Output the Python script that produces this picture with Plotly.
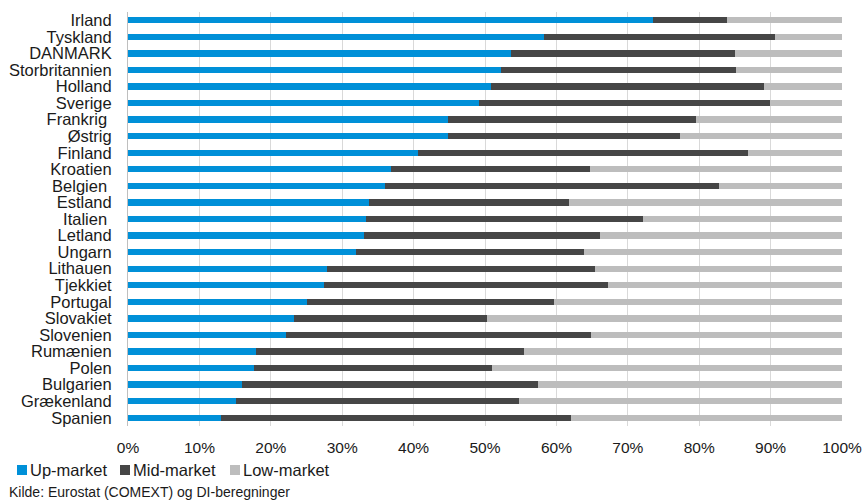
import plotly.graph_objects as go

countries = ["Irland", "Tyskland", "DANMARK", "Storbritannien", "Holland", "Sverige",
             "Frankrig\u00a0", "Østrig", "Finland", "Kroatien", "Belgien\u00a0", "Estland",
             "Italien\u00a0", "Letland", "Ungarn", "Lithauen", "Tjekkiet", "Portugal",
             "Slovakiet", "Slovenien", "Rumænien", "Polen", "Bulgarien", "Grækenland", "Spanien"]

up_market = [73.5, 58.2, 53.6, 52.2, 50.8, 49.2, 44.8, 44.8, 40.6, 36.8, 36.0, 33.7,
             33.3, 33.1, 32.0, 27.9, 27.5, 25.1, 23.2, 22.1, 17.9, 17.7, 15.9, 15.1, 13.0]
mid_market = [10.4, 32.4, 31.4, 32.9, 38.3, 40.7, 34.8, 32.5, 46.3, 27.9, 46.8, 28.1,
              38.8, 33.0, 31.9, 37.5, 39.7, 34.6, 27.1, 42.8, 37.6, 33.3, 41.5, 39.6, 49.0]
low_market = [16.1, 9.4, 15.0, 14.9, 10.9, 10.1, 20.4, 22.7, 13.1, 35.3, 17.2, 38.2,
              27.9, 33.9, 36.1, 34.6, 32.8, 40.3, 49.7, 35.1, 44.5, 49.0, 42.6, 45.3, 38.0]

x_ticks = [0, 10, 20, 30, 40, 50, 60, 70, 80, 90, 100]
x_tick_labels = [f"{v}%" for v in x_ticks]

series_names = ["Up-market", "Mid-market", "Low-market"]
series_colors = ["#0090d8", "#464646", "#bdbdbd"]
series_values = [up_market, mid_market, low_market]

W, H = 865, 500
ML, MR, MT, MB = 128, 23, 12, 74
PW, PH = W - ML - MR, H - MT - MB


def px_x(px):
    return (px - ML) / PW


def px_y(py):
    return (H - MB - py) / PH


fig = go.Figure()
for name, vals, col in zip(series_names, series_values, series_colors):
    fig.add_trace(go.Bar(y=countries, x=vals, name=name, orientation="h",
                         marker=dict(color=col, line=dict(width=0)), showlegend=False))

# legend drawn as squares + text (compact Excel-style legend)
legend_sq_x = [17, 120, 230]
shapes = []
annotations = []
for name, col, sx in zip(series_names, series_colors, legend_sq_x):
    shapes.append(dict(type="rect", xref="paper", yref="paper",
                       x0=px_x(sx), x1=px_x(sx + 10), y0=px_y(475), y1=px_y(465),
                       fillcolor=col, line=dict(width=0)))
    annotations.append(dict(text=name, xref="paper", yref="paper",
                            x=px_x(sx + 11), y=px_y(470), xanchor="left", yanchor="middle",
                            showarrow=False, font=dict(size=16.5, color="#1a1a1a")))

annotations.append(dict(text="Kilde: Eurostat (COMEXT) og DI-beregninger",
                        xref="paper", yref="paper", x=px_x(7), y=px_y(492),
                        xanchor="left", yanchor="middle",
                        showarrow=False, font=dict(size=14, color="#1a1a1a")))

fig.update_layout(
    width=W, height=H,
    barmode="stack", bargap=0.62,
    paper_bgcolor="white", plot_bgcolor="white",
    margin=dict(l=ML, r=MR, t=MT, b=MB, autoexpand=False),
    font=dict(family="Liberation Sans, Arial, sans-serif", color="#1a1a1a"),
    showlegend=False,
    shapes=shapes,
    annotations=annotations,
)

fig.update_xaxes(range=[0, 100], tickmode="array", tickvals=x_ticks, ticktext=x_tick_labels,
                 showgrid=True, gridcolor="#d9d9d9", gridwidth=1, zeroline=False,
                 tickfont=dict(size=15.5), ticks="", ticklabelstandoff=10, automargin=False)
fig.update_yaxes(autorange="reversed", tickmode="array", tickvals=countries,
                 showline=True, linecolor="#bfbfbf", linewidth=1,
                 tickfont=dict(size=16.5), ticks="", ticklabelstandoff=12,
                 showgrid=False, automargin=False)

fig.write_html("out.html", config={"displayModeBar": False},
               post_script="document.body.style.margin='0';")
